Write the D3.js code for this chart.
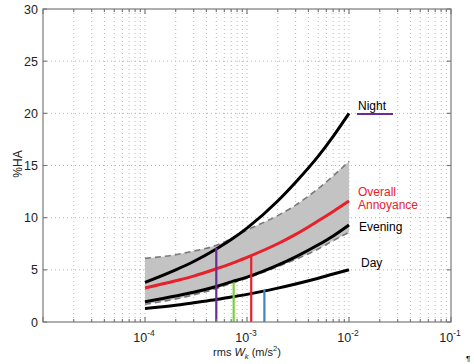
<!DOCTYPE html>
<html><head><meta charset="utf-8">
<script src="https://cdn.jsdelivr.net/npm/d3@7"></script>
<style>body{margin:0;background:#fff;} text{font-family:"Liberation Sans",Arial,sans-serif;}</style>
</head><body><svg id="c" width="474" height="364"></svg>
<script>
const xs = [1e-4, 2e-4, 3e-4, 5e-4, 7e-4, 1e-3, 2e-3, 3e-3, 5e-3, 7e-3, 1e-2];
const night   = [3.8, 5.0, 5.8, 7.0, 7.9, 9.0, 11.6, 13.4, 15.9, 17.8, 20.0];
const overall = [3.25, 3.95, 4.4, 5.1, 5.6, 6.2, 7.5, 8.4, 9.7, 10.6, 11.6];
const evening = [1.95, 2.5, 2.85, 3.4, 3.85, 4.3, 5.45, 6.25, 7.4, 8.25, 9.3];
const day     = [1.3, 1.6, 1.85, 2.15, 2.4, 2.65, 3.25, 3.65, 4.2, 4.6, 5.0];
const bandUpper = [6.1, 6.45, 6.8, 7.35, 8.0, 8.8, 10.2, 11.2, 12.8, 14.0, 15.4];
const bandLower = [1.7, 2.2, 2.6, 3.2, 3.7, 4.2, 5.3, 6.0, 7.0, 7.8, 8.6];
const markerX = [5e-4, 7.4e-4, 1.1e-3, 1.48e-3];
const markerY = [7.1, 3.8, 6.3, 3.1];
const markerColor = ["#6b2d92", "#7ccf3a", "#e8202a", "#3d86c6"];
const yTicks = [0, 5, 10, 15, 20, 25, 30];
const xMajor = [1e-5, 1e-4, 1e-3, 1e-2, 1e-1];
const xMajorExp = ["-5", "-4", "-3", "-2", "-1"];
const labels = [
  {t:"Night", c:"#000"}, {t:"Overall", c:"#e8202a"}, {t:"Annoyance", c:"#e8202a"},
  {t:"Evening", c:"#000"}, {t:"Day", c:"#000"}
];
const labelY = [110, 196, 209, 231, 267];
const labelX = [358, 358, 358, 359, 361];

const L = 43, R = 451, T = 9, B = 322;
const svg = d3.select("#c");
const x = d3.scaleLog().domain([1e-5, 1e-1]).range([L, R]);
const y = d3.scaleLinear().domain([0, 30]).range([B, T]);

const xMinor = [];
for (let e = -5; e < -1; e++) for (let k = 2; k <= 9; k++) xMinor.push(k * Math.pow(10, e));

const grid = svg.append("g").attr("stroke", "#b8b8b8").attr("stroke-width", 1).attr("stroke-dasharray", "1,3");
xMinor.concat(xMajor.slice(1, -1)).forEach(v => {
  grid.append("line").attr("x1", x(v)).attr("x2", x(v)).attr("y1", T).attr("y2", B);
});
yTicks.slice(1, -1).forEach(v => {
  grid.append("line").attr("x1", L).attr("x2", R).attr("y1", y(v)).attr("y2", y(v));
});

const area = d3.area().x((d, i) => x(xs[i])).y0((d, i) => y(bandLower[i])).y1((d, i) => y(bandUpper[i])).curve(d3.curveMonotoneX);
svg.append("path").datum(xs).attr("d", area).attr("fill", "#c3c3c3");
const line = arr => d3.line().x((d, i) => x(xs[i])).y((d, i) => y(arr[i])).curve(d3.curveMonotoneX)(xs);
[bandUpper, bandLower].forEach(a => {
  svg.append("path").attr("d", line(a)).attr("fill", "none").attr("stroke", "#7a7a7a")
    .attr("stroke-width", 1.6).attr("stroke-dasharray", "6,4");
});
[day, evening, night].forEach(a => {
  svg.append("path").attr("d", line(a)).attr("fill", "none").attr("stroke", "#000").attr("stroke-width", 3);
});
svg.append("path").attr("d", line(overall)).attr("fill", "none").attr("stroke", "#e8202a").attr("stroke-width", 3);

markerX.forEach((v, i) => {
  svg.append("line").attr("x1", x(v)).attr("x2", x(v)).attr("y1", y(0)).attr("y2", y(markerY[i]))
    .attr("stroke", markerColor[i]).attr("stroke-width", 2.2);
});

const ax = svg.append("g").attr("stroke", "#7a7a7a").attr("stroke-width", 1.2).attr("fill", "none");
ax.append("rect").attr("x", L).attr("y", T).attr("width", R - L).attr("height", B - T);
xMinor.forEach(v => {
  ax.append("line").attr("x1", x(v)).attr("x2", x(v)).attr("y1", B).attr("y2", B - 3);
  ax.append("line").attr("x1", x(v)).attr("x2", x(v)).attr("y1", T).attr("y2", T + 3);
});
xMajor.forEach(v => {
  ax.append("line").attr("x1", x(v)).attr("x2", x(v)).attr("y1", B).attr("y2", B - 5);
  ax.append("line").attr("x1", x(v)).attr("x2", x(v)).attr("y1", T).attr("y2", T + 5);
});
yTicks.forEach(v => {
  ax.append("line").attr("x1", L).attr("x2", L + 4).attr("y1", y(v)).attr("y2", y(v));
  ax.append("line").attr("x1", R).attr("x2", R - 4).attr("y1", y(v)).attr("y2", y(v));
});

yTicks.forEach(v => {
  svg.append("text").attr("x", 38).attr("y", y(v) + 4.5).attr("text-anchor", "end")
    .attr("font-size", 12.5).attr("fill", "#222").text(v);
});
xMajor.forEach((v, i) => {
  if (i === 0) return;
  const t = svg.append("text").attr("x", x(v) - 1).attr("y", 342).attr("text-anchor", "middle")
    .attr("font-size", 12.5).attr("fill", "#222");
  t.append("tspan").text("10");
  t.append("tspan").attr("dy", -6).attr("font-size", 8.5).text(xMajorExp[i]);
});

svg.append("text").attr("transform", "translate(22,164) rotate(-90)").attr("text-anchor", "middle")
  .attr("font-size", 12).attr("fill", "#222").text("%HA");
const xl = svg.append("text").attr("x", 247).attr("y", 356).attr("text-anchor", "middle")
  .attr("font-size", 11).attr("fill", "#222");
xl.append("tspan").text("rms ");
xl.append("tspan").attr("font-style", "italic").text("W");
xl.append("tspan").attr("dy", 3).attr("font-size", 7.5).attr("font-style", "italic").text("k");
xl.append("tspan").attr("dy", -3).text(" (m/s");
xl.append("tspan").attr("dy", -5).attr("font-size", 7.5).text("2");
xl.append("tspan").attr("dy", 5).text(")");

labels.forEach((d, i) => {
  svg.append("text").attr("x", labelX[i]).attr("y", labelY[i]).attr("font-size", 12)
    .attr("fill", d.c).text(d.t);
});
svg.append("line").attr("x1", 357).attr("x2", 393).attr("y1", 114).attr("y2", 114)
  .attr("stroke", "#6b2d92").attr("stroke-width", 2.2);
svg.append("text").attr("x", 466).attr("y", 361).attr("font-size", 8).attr("fill", "#000").text("¶");
</script></body></html>
